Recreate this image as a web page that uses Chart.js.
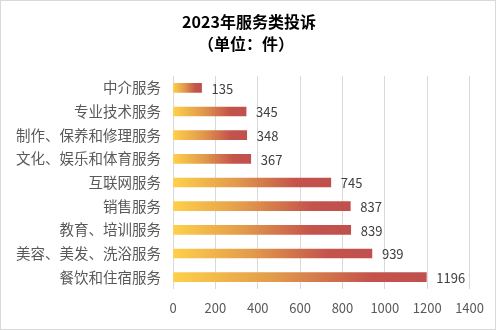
<!DOCTYPE html>
<html>
<head>
<meta charset="utf-8">
<script src="https://cdn.jsdelivr.net/npm/chart.js@4/dist/chart.umd.min.js"></script>
<style>
html,body{margin:0;padding:0;background:#fff;}
#wrap{position:relative;width:494px;height:328px;border:1px solid #d9d9d9;}
canvas{display:block;}
</style>
</head>
<body>
<div id="wrap"><canvas id="c" width="494" height="328"></canvas></div>
<script>
const categories = ['中介服务','专业技术服务','制作、保养和修理服务','文化、娱乐和体育服务','互联网服务','销售服务','教育、培训服务','美容、美发、洗浴服务','餐饮和住宿服务'];
const values = [135,345,348,367,745,837,839,939,1196];
const xTicks = [0,200,400,600,800,1000,1200,1400];
const titleLines = ['2023年服务类投诉','（单位：件）'];

const FONT = "'Noto Sans CJK SC','Noto Sans',sans-serif";

const valueLabels = {
  id:'valueLabels',
  afterDatasetsDraw(chart){
    const ctx = chart.ctx;
    const meta = chart.getDatasetMeta(0);
    ctx.save();
    ctx.font = "13px " + FONT;
    ctx.fillStyle = '#404040';
    ctx.textAlign = 'left';
    ctx.textBaseline = 'middle';
    meta.data.forEach((bar,i)=>{
      ctx.fillText(String(values[i]), bar.x + 10, bar.y + 1);
    });
    ctx.restore();
  }
};

const centeredTitle = {
  id:'centeredTitle',
  afterDraw(chart){
    const ctx = chart.ctx;
    ctx.save();
    ctx.font = "bold 16px " + FONT;
    ctx.fillStyle = '#000';
    ctx.textAlign = 'center';
    ctx.textBaseline = 'middle';
    const cx = chart.width/2 + 1;
    ctx.fillText(titleLines[0], cx, 21);
    ctx.fillText(titleLines[1], cx - 3, 43);
    ctx.restore();
  }
};

new Chart(document.getElementById('c'), {
  type:'bar',
  data:{
    labels:categories,
    datasets:[{
      data:values,
      barThickness:9,
      backgroundColor(context){
        const chart = context.chart;
        if(!chart.chartArea) return '#E0904A';
        const xs = chart.scales.x;
        const x0 = xs.getPixelForValue(0);
        const x1 = xs.getPixelForValue(context.raw);
        const g = chart.ctx.createLinearGradient(x0,0,Math.max(x1,x0+1),0);
        g.addColorStop(0,'#FED04A');
        g.addColorStop(0.4,'#E29A4B');
        g.addColorStop(0.78,'#C4534C');
        g.addColorStop(1,'#C0504D');
        return g;
      }
    }]
  },
  plugins:[valueLabels, centeredTitle],
  options:{
    responsive:false,
    animation:false,
    indexAxis:'y',
    layout:{padding:{left:0,right:24,top:75,bottom:6}},
    plugins:{
      legend:{display:false},
      tooltip:{enabled:false},
      title:{display:false}
    },
    scales:{
      x:{
        min:0,max:1400,
        afterBuildTicks(scale){ scale.ticks = xTicks.map(v=>({value:v})); },
        afterFit(scale){ scale.height = 34; },
        grid:{color:'#d9d9d9',drawTicks:false},
        border:{display:false},
        ticks:{color:'#595959',font:{family:FONT,size:13},padding:11,callback:(v)=>String(v)}
      },
      y:{
        afterFit(scale){ scale.width = 172; },
        grid:{display:false},
        border:{display:false},
        ticks:{color:'#595959',font:{family:FONT,size:14.5},padding:4}
      }
    }
  }
});
</script>
</body>
</html>
